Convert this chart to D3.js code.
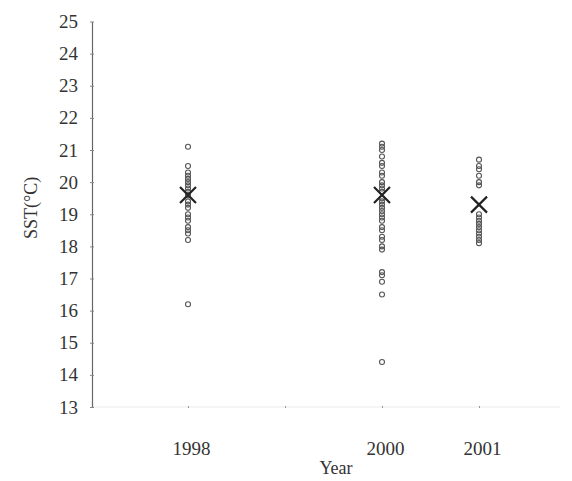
<!DOCTYPE html>
<html>
<head>
<meta charset="utf-8">
<script src="https://cdn.jsdelivr.net/npm/d3@7/dist/d3.min.js"></script>
<style>
  html, body { margin: 0; padding: 0; background: #fff; }
  svg { display: block; }
  text { font-family: "Liberation Serif", "DejaVu Serif", serif; fill: #333; }
</style>
</head>
<body>
<svg id="chart" width="572" height="481"></svg>
<script>
// SST observations per year (°C)
const years = [1998, 2000, 2001];
const sst1998 = [21.1, 20.5, 20.3, 20.2, 20.1, 20.0, 19.9, 19.8, 19.7, 19.6, 19.4, 19.3,
                 19.2, 19.0, 18.9, 18.8, 18.6, 18.5, 18.4, 18.2, 16.2];
const sst2000 = [21.2, 21.1, 21.0, 20.8, 20.6, 20.5, 20.3, 20.2, 20.0, 19.9, 19.8, 19.7,
                 19.5, 19.4, 19.3, 19.2, 19.1, 19.0, 18.9, 18.8, 18.6, 18.5, 18.3, 18.2,
                 18.0, 17.9, 17.2, 17.1, 16.9, 16.5, 14.4];
const sst2001 = [20.7, 20.5, 20.4, 20.2, 20.0, 19.9, 19.0, 18.9, 18.8, 18.7, 18.6, 18.5,
                 18.4, 18.3, 18.2, 18.1];
const meanSST = [19.6, 19.6, 19.3];
const xTickYears = [1998, 1999, 2000, 2001];
const xTickLabels = ["1998", "", "2000", "2001"];
const yTicks = [13, 14, 15, 16, 17, 18, 19, 20, 21, 22, 23, 24, 25];

const series = [sst1998, sst2000, sst2001];

const svg = d3.select("#chart");

const x = d3.scaleLinear().domain([1997, 2002]).range([91, 576]);
const y = d3.scaleLinear().domain([13, 25]).range([407, 21.5]);

// x axis: faint baseline with short ticks
const xAxis = svg.append("g")
  .attr("transform", `translate(0,${y(13)})`)
  .call(d3.axisBottom(x).tickValues(xTickYears)
        .tickFormat((d, i) => xTickLabels[i]).tickSize(3).tickPadding(32));
xAxis.select(".domain").attr("stroke", "#ececec").attr("d", `M${x(1997)},0H560`);
xAxis.selectAll(".tick line").attr("stroke", "#999").attr("y1", -1).attr("y2", 1);
xAxis.selectAll(".tick text")
  .attr("font-size", 19).attr("fill", "#444")
  .attr("dx", 3)
  .style("font-family", "'Liberation Serif', serif");

// y axis
const yAxis = svg.append("g")
  .attr("transform", `translate(${x(1997) + 1},0)`)
  .call(d3.axisLeft(y).tickValues(yTicks).tickSize(0).tickPadding(14));
yAxis.select(".domain").attr("stroke", "#666").attr("stroke-width", 1.2);
yAxis.selectAll(".tick line").attr("stroke", "#888").attr("x1", -2).attr("x2", 2);
yAxis.selectAll(".tick text")
  .attr("font-size", 19).attr("fill", "#333")
  .style("font-family", "'Liberation Serif', serif");

// observations
series.forEach((vals, i) => {
  svg.append("g").selectAll("circle")
    .data(vals)
    .join("circle")
    .attr("cx", x(years[i]))
    .attr("cy", d => y(d))
    .attr("r", 2.5)
    .attr("fill", "none")
    .attr("stroke", "#555")
    .attr("stroke-width", 1.1);
});

// yearly means
const s = 8;
svg.append("g").selectAll("path")
  .data(meanSST)
  .join("path")
  .attr("transform", (d, i) => `translate(${x(years[i])},${y(d)})`)
  .attr("d", `M${-s},${-s}L${s},${s}M${-s},${s}L${s},${-s}`)
  .attr("stroke", "#222")
  .attr("stroke-width", 2.2)
  .attr("fill", "none");

// axis titles
svg.append("text")
  .attr("x", 336).attr("y", 474)
  .attr("text-anchor", "middle")
  .attr("font-size", 18).attr("fill", "#444")
  .text("Year");

svg.append("text")
  .attr("transform", `translate(37,${y(19.2)}) rotate(-90)`)
  .attr("text-anchor", "middle")
  .attr("font-size", 18).attr("fill", "#444")
  .text("SST(°C)");
</script>
</body>
</html>
